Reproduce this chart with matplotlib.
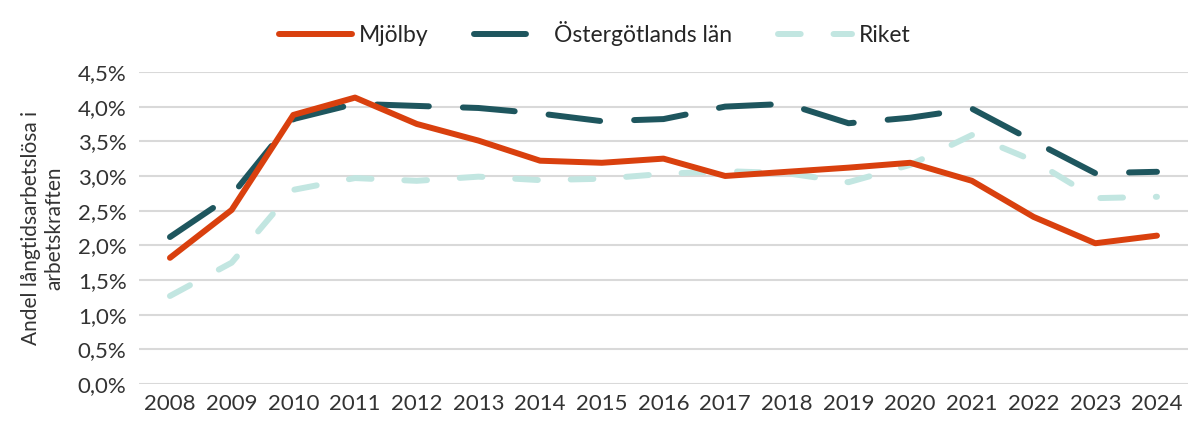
import matplotlib
matplotlib.use("Agg")
import matplotlib.pyplot as plt
from matplotlib.ticker import FuncFormatter

years = [str(y) for y in range(2008, 2025)]
mjolby = [1.82, 2.51, 3.88, 4.13, 3.75, 3.51, 3.22, 3.19, 3.25, 3.00, 3.06, 3.12, 3.19, 2.93, 2.41, 2.03, 2.14]
ostergotland = [2.12, 2.72, 3.82, 4.04, 4.01, 3.98, 3.90, 3.79, 3.82, 4.00, 4.04, 3.76, 3.84, 3.97, 3.50, 3.04, 3.06]
riket = [1.27, 1.75, 2.80, 2.97, 2.93, 2.99, 2.94, 2.96, 3.03, 3.07, 3.04, 2.91, 3.16, 3.59, 3.22, 2.68, 2.70]

plt.rcParams['font.family'] = ['Lato', 'DejaVu Sans']
fig = plt.figure(figsize=(11.89, 4.23), dpi=100)
ax = fig.add_axes([0.117, 0.092, 0.882, 0.738])

x = range(len(years))
ax.plot(x, mjolby, color='#D9400E', lw=4.3, solid_capstyle='round', solid_joinstyle='round', label='Mjölby', zorder=3)
ax.plot(x, ostergotland, color='#1E565E', lw=4.3, dashes=(8.7, 5.7), dash_capstyle='round', label='Östergötlands län', zorder=2)
ax.plot(x, riket, color='#C2E6E1', lw=4.3, dashes=(3.8, 5.5), dash_capstyle='round', label='Riket', zorder=1)

ax.set_xlim(-0.5, len(years) - 0.5)
ax.set_ylim(0, 4.5)
ax.set_yticks([i * 0.5 for i in range(10)])
ax.yaxis.set_major_formatter(FuncFormatter(lambda v, p: f"{v:.1f}".replace('.', ',') + '%'))
ax.set_xticks(list(x))
ax.set_xticklabels(years)
ax.grid(axis='y', color='#D9D9D9', lw=1.5)
ax.set_axisbelow(True)
for s in ax.spines.values():
    s.set_visible(False)
ax.tick_params(length=0, labelsize=16, colors='#333333', pad=7)
ax.tick_params(axis='y', pad=9)
ax.set_ylabel('Andel långtidsarbetslösa i\narbetskraften', fontsize=15, color='#333333', labelpad=10, linespacing=1.2)

leg = fig.legend(loc='upper center', bbox_to_anchor=(0.5, 1.0), ncol=3, frameon=False, fontsize=16.5,
                 handlelength=3.2, columnspacing=2.0, handletextpad=0.3)
for t in leg.get_texts():
    t.set_color('#262626')

fig.savefig('out.png', dpi=100)
